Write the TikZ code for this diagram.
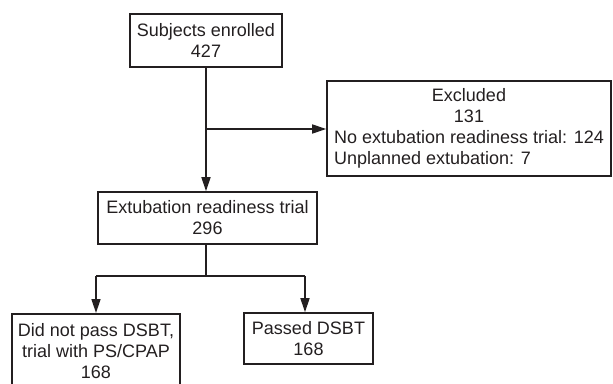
\documentclass[tikz,border=0pt]{standalone}
\usepackage{fontspec}
\setmainfont{Liberation Sans}
\usetikzlibrary{arrows.meta}
\definecolor{ink}{HTML}{231F20}
\begin{document}
\begin{tikzpicture}[x=1pt,y=-1pt,
  box/.style={draw=ink,line width=1.6pt,rectangle,inner sep=0pt,align=center,
    font=\fontsize{18}{21}\selectfont,text=ink},
  conn/.style={draw=ink,line width=1.6pt},
  arr/.style={conn,-{Triangle[length=14pt,width=9pt]}}]
\useasboundingbox (0,0) rectangle (613,383);
\clip (0,0) rectangle (613,383);
\node[box,minimum width=152pt,minimum height=53pt] (enr) at (206,40.5) {Subjects enrolled\\427};
\node[box,minimum width=219pt,minimum height=52pt] (ext) at (207.5,218) {Extubation readiness trial\\296};
\node[box,minimum width=284pt,minimum height=95pt] (exc) at (469,128.5)
  {\begin{tabular}{@{}l@{}}\multicolumn{1}{@{}c@{}}{Excluded}\\\multicolumn{1}{@{}c@{}}{131}\\No extubation readiness trial: 124\\Unplanned extubation: 7\end{tabular}};
\node[box,minimum width=168pt,minimum height=74pt,anchor=north] (dnp) at (96,313) {Did not pass DSBT,\\trial with PS/CPAP\\168};
\node[box,minimum width=129pt,minimum height=51pt] (pas) at (308.5,338.5) {Passed DSBT\\168};
\coordinate (j1) at (206,129);
\coordinate (j2) at (206,276);
\coordinate (jl) at (96,276);
\coordinate (jr) at (305,276);
\draw[arr] (enr.south -| j1) -- (ext.north -| j1);
\draw[arr] (j1) -- (exc.west |- j1);
\draw[conn] (ext.south -| j2) -- (j2);
\draw[conn] (jl) -- (jr);
\draw[arr] (jl) -- (dnp.north);
\draw[arr] (jr) -- (pas.north -| jr);
\end{tikzpicture}
\end{document}
